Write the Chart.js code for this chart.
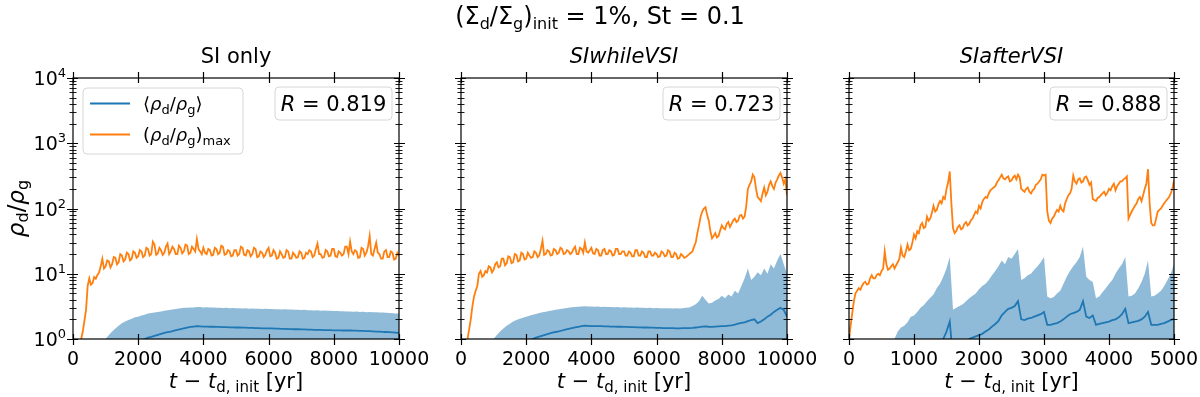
<!DOCTYPE html>
<html>
<head>
<meta charset="utf-8">
<script src="https://cdn.jsdelivr.net/npm/chart.js@4"></script>
<style>
  body { margin: 0; background: #fff; }
  #wrap { position: relative; width: 1200px; height: 397px; }
  #wrap canvas { position: absolute; left: 0; top: 0; }
</style>
</head>
<body>
<div id="wrap">
  <canvas id="siOnly" width="1200" height="397"></canvas>
  <canvas id="siWhile" width="1200" height="397"></canvas>
  <canvas id="siAfter" width="1200" height="397"></canvas>
</div>
<script>
// sample times (yr): max curves are sampled twice as often as the mean and its band
const tLong = Array.from({ length: 101 }, (_, i) => i * 100);
const tLongFine = Array.from({ length: 201 }, (_, i) => i * 50);
const tShort = Array.from({ length: 101 }, (_, i) => i * 50);
const tShortFine = Array.from({ length: 201 }, (_, i) => i * 25);

// SI only
const siOnlyMax = [
  0.5, 0.55, 0.6, 0.7, 0.8, 1.0, 1.3, 1.9, 2.8, 6.5, 8.5, 6.8, 7.2, 8.9, 8.4, 9.6, 10.5, 13, 17, 12,
  13, 16, 15.5, 12.5, 14, 18, 17.5, 14, 15, 20, 19, 15.5, 16.5, 21, 20, 16, 17, 22, 21, 17.5,
  18.5, 23, 22, 18, 19, 25, 24, 19, 20, 31, 28, 19.5, 20.5, 25, 23, 19.5, 21, 26, 29, 20,
  22, 26, 24, 20, 20, 27, 25, 20.5, 22, 28, 27, 20, 21, 26, 24, 22, 34, 24, 22, 20,
  25, 21, 20, 24, 23, 19, 19.5, 25, 24, 20, 21, 27, 26, 19.5, 20, 23, 22, 18.5, 19, 23,
  23, 19, 20, 26, 25, 19.5, 19, 23, 22, 18.5, 20, 25, 24, 18, 18.5, 22, 21, 18, 19.5, 23,
  25, 18.5, 19, 23, 21, 17, 17.5, 22, 20, 17.5, 18, 23, 22, 17, 17, 21, 19.5, 17.5, 18, 22,
  21, 17, 17.5, 21, 20, 23, 22, 18, 19, 24, 29, 20, 20, 17.5, 18, 23, 22, 18.5, 19, 24,
  24, 18.5, 18, 22, 21, 19, 20, 26, 26, 20, 31, 22, 20, 23, 22, 17.5, 18, 25, 24, 19,
  21, 26, 38, 20, 19, 24, 30, 21, 20, 17, 17, 22, 23, 18, 18, 22, 21, 16.5, 17, 21,
  19
];
const siOnlyUpper = [
  null, null, null, null, null, null, null, null, null, 0.9,
  1.0, 1.15, 1.3, 1.45, 1.6, 1.75, 1.85, 1.95, 2.05, 2.15,
  2.2, 2.3, 2.35, 2.45, 2.5, 2.55, 2.6, 2.65, 2.7, 2.75,
  2.8, 2.85, 2.9, 2.95, 3.0, 3.0, 3.05, 3.05, 3.1, 3.08,
  3.05, 3.06, 3.03, 3.04, 3.0, 3.02, 2.98, 3.0, 2.97, 2.98,
  2.95, 2.97, 2.94, 2.95, 2.92, 2.93, 2.9, 2.92, 2.88, 2.9,
  2.87, 2.88, 2.85, 2.86, 2.83, 2.85, 2.82, 2.83, 2.8, 2.81,
  2.78, 2.8, 2.76, 2.77, 2.74, 2.75, 2.72, 2.73, 2.7, 2.71,
  2.68, 2.69, 2.66, 2.67, 2.64, 2.65, 2.62, 2.63, 2.6, 2.61,
  2.58, 2.6, 2.56, 2.57, 2.54, 2.55, 2.52, 2.5, 2.48, 2.47,
  2.45
];
const siOnlyMean = [
  null, null, null, null, null, null, null, null, null, null,
  null, null, null, null, null, null, null, null, null, null,
  0.85, 0.95, 1.0, 1.05, 1.08, 1.12, 1.16, 1.2, 1.24, 1.27,
  1.3, 1.34, 1.38, 1.42, 1.46, 1.5, 1.53, 1.55, 1.57, 1.56,
  1.55, 1.55, 1.54, 1.54, 1.53, 1.53, 1.52, 1.52, 1.51, 1.51,
  1.5, 1.5, 1.49, 1.49, 1.48, 1.48, 1.47, 1.47, 1.46, 1.46,
  1.45, 1.45, 1.44, 1.44, 1.43, 1.43, 1.42, 1.42, 1.41, 1.41,
  1.4, 1.4, 1.39, 1.39, 1.38, 1.38, 1.38, 1.37, 1.37, 1.37,
  1.36, 1.36, 1.36, 1.35, 1.35, 1.35, 1.34, 1.34, 1.33, 1.33,
  1.32, 1.32, 1.31, 1.3, 1.3, 1.29, 1.28, 1.27, 1.26, 1.25,
  1.24
];

// SIwhileVSI
const whileMax = [
  0.5, 0.6, 0.7, 0.85, 1.0, 1.4, 2.0, 3.2, 4.5, 5.5, 6.5, 10, 11, 9, 9.5, 11, 10.5, 13, 12.5, 10.5,
  11.5, 14, 15, 12.5, 13, 17, 17, 13.5, 14.5, 18.5, 18, 14.5, 15, 20, 19.5, 15.5, 16, 21, 20, 16.5,
  17, 21, 19, 17.5, 18, 22, 21, 18, 19, 24, 32, 19.5, 20, 23, 22, 19, 19.5, 24, 23, 20,
  21, 25, 24, 20, 20.5, 23, 22, 20, 21, 24, 26, 20, 20, 25, 24, 21, 30, 22, 21, 23,
  25, 20.5, 20, 24, 23, 19, 19, 23, 24, 20, 20, 23, 22, 19, 19.5, 24, 24, 20, 20, 22,
  22, 19, 19, 22, 21, 18.5, 18.5, 23, 23, 19, 19, 22, 21, 18, 18, 22, 22, 19, 19, 21,
  20, 18, 18.5, 22, 21, 18.5, 19, 23, 22, 18, 18, 21, 20, 17, 17.5, 20, 19, 17.5, 18, 19,
  20, 21, 22, 26, 30, 42, 55, 75, 90, 100, 105, 80, 65, 45, 35, 38, 42, 36, 38, 46,
  55, 50, 48, 58, 62, 52, 58, 66, 70, 62, 65, 78, 80, 70, 75, 110, 200, 230, 260, 330,
  300, 200, 150, 140, 130, 170, 210, 160, 180, 230, 260, 220, 200, 250, 280, 320, 350, 300, 240, 280,
  160
];
const whileUpper = [
  null, null, null, null, null, null, null, null, null, 0.9,
  1.0, 1.15, 1.3, 1.45, 1.6, 1.72, 1.85, 1.95, 2.05, 2.12,
  2.2, 2.28, 2.35, 2.42, 2.5, 2.56, 2.62, 2.68, 2.74, 2.8,
  2.86, 2.92, 2.97, 3.02, 3.07, 3.1, 3.13, 3.15, 3.18, 3.16,
  3.15, 3.12, 3.14, 3.1, 3.11, 3.08, 3.1, 3.06, 3.08, 3.05,
  3.06, 3.03, 3.05, 3.02, 3.03, 3.0, 3.02, 2.98, 3.0, 2.97,
  2.98, 2.96, 2.97, 2.95, 2.96, 2.94, 2.95, 2.93, 2.96, 3.0,
  3.05, 3.2, 3.4, 3.8, 4.6, 4.0, 3.5, 3.6, 3.9, 4.1,
  4.6, 4.2, 4.8, 4.5, 5.5, 5.0, 6.5, 8.5, 12, 8,
  9, 10.5, 9.5, 12, 10, 14, 12, 16, 20, 14,
  10
];
const whileMean = [
  null, null, null, null, null, null, null, null, null, null,
  null, null, null, null, null, null, null, null, null, null,
  0.85, 0.95, 1.0, 1.05, 1.09, 1.13, 1.17, 1.21, 1.25, 1.28,
  1.31, 1.35, 1.39, 1.43, 1.47, 1.51, 1.54, 1.57, 1.6, 1.59,
  1.58, 1.58, 1.57, 1.57, 1.56, 1.56, 1.55, 1.55, 1.54, 1.54,
  1.53, 1.53, 1.52, 1.52, 1.51, 1.51, 1.5, 1.5, 1.49, 1.49,
  1.48, 1.48, 1.47, 1.47, 1.47, 1.47, 1.46, 1.46, 1.47, 1.47,
  1.47, 1.48, 1.5, 1.52, 1.55, 1.56, 1.54, 1.53, 1.55, 1.56,
  1.57, 1.58, 1.6, 1.62, 1.66, 1.72, 1.76, 1.8, 1.88, 1.95,
  2.0, 1.75, 1.85, 2.0, 2.2, 2.35, 2.6, 2.8, 3.0, 2.8,
  2.2
];

// SIafterVSI
const afterMax = [
  1.0, 1.6, 2.5, 3.8, 5, 5.5, 6, 5.7, 6.5, 7.2, 7.5, 6.8, 7, 8.5, 9.5, 8.5, 8.5, 9.5, 10, 9.5,
  11, 12, 22, 14, 11.5, 12, 13, 14, 12, 13.5, 15, 17, 25, 19, 18, 22, 28, 23, 24, 30,
  40, 35, 45, 42, 55, 60, 50, 52, 75, 65, 70, 85, 110, 90, 95, 115, 130, 120, 150, 140,
  200, 250, 370, 120, 50, 42, 45, 52, 55, 48, 50, 58, 62, 55, 58, 66, 70, 80, 90, 85,
  110, 100, 125, 140, 150, 145, 170, 190, 200, 210, 220, 250, 270, 300, 330, 290, 280, 300, 310, 260,
  270, 300, 320, 280, 330, 300, 200, 190, 180, 200, 210, 180, 170, 190, 200, 230, 240, 260, 280, 330,
  320, 330, 90, 65, 60, 70, 75, 85, 95, 90, 110, 95, 90, 120, 140, 160, 170, 200, 320, 260,
  240, 280, 290, 250, 260, 300, 310, 270, 230, 250, 140, 135, 130, 145, 150, 160, 170, 180, 160, 175,
  200, 190, 220, 240, 190, 220, 240, 260, 260, 280, 290, 310, 70, 80, 90, 100, 110, 120, 140, 150,
  130, 160, 200, 240, 400, 120, 60, 55, 55, 70, 90, 95, 100, 110, 120, 130, 140, 150, 170, 200,
  270
];
const afterUpper = [
  null, null, null, null, null, null, null, null, null, null,
  null, null, null, 0.8, 1.0, 1.3, 1.5, 1.6, 1.8, 2.2,
  2.3, 2.6, 3.0, 3.3, 3.8, 4.3, 4.8, 6, 7, 9,
  12, 18, 2.8, 3.0, 3.2, 3.4, 3.8, 4.2, 4.6, 5,
  5.8, 6.5, 7, 8, 9.5, 11, 13, 16, 14, 18,
  17, 20, 24, 8, 8.5, 9.5, 10, 11.5, 13, 15,
  18, 4.5, 4.2, 4.4, 5, 5.5, 7, 9, 11, 13,
  15, 18, 26, 9, 8, 7.5, 4.2, 4.5, 5.2, 6,
  7, 8, 10, 12, 14, 18, 4.5, 4.6, 5, 6,
  7.5, 10, 16, 4.5, 4.6, 5, 5.5, 6.5, 8, 10,
  14
];
const afterMean = [
  null, null, null, null, null, null, null, null, null, null,
  null, null, null, null, null, null, null, null, null, null,
  null, null, null, null, null, null, null, null, 0.8, 1.0,
  1.3, 1.85, 0.5, null, null, null, 0.8, 1.0, 1.05, 1.1,
  1.15, 1.2, 1.3, 1.4, 1.55, 1.7, 1.9, 2.3, 2.6, 2.9,
  3.0, 3.2, 3.8, 2.0, 1.95, 2.05, 2.1, 2.2, 2.3, 2.4,
  2.6, 1.65, 1.65, 1.7, 1.75, 1.85, 2.0, 2.2, 2.4, 2.5,
  2.6, 2.8, 3.8, 2.2, 2.1, 2.3, 1.65, 1.7, 1.75, 1.8,
  1.85, 1.95, 2.0, 2.15, 2.4, 2.9, 1.75, 1.8, 1.85, 1.9,
  2.0, 2.2, 2.6, 1.65, 1.65, 1.65, 1.7, 1.75, 1.85, 1.95,
  2.05
];

const longTicks = [0, 2000, 4000, 6000, 8000, 10000];
const shortTicks = [0, 1000, 2000, 3000, 4000, 5000];

const BLUE = '#1f77b4';
const ORANGE = '#ff7f0e';
const BAND = 'rgba(31, 119, 180, 0.5)';
const FONT = '"DejaVu Sans", sans-serif';

// draws a run of text pieces: [text, size, italic, dy]
function rich(ctx, parts, x, y, align) {
  let w = 0;
  parts.forEach(p => {
    ctx.font = (p[2] ? 'italic ' : '') + p[1] + 'px ' + FONT;
    w += ctx.measureText(p[0]).width;
  });
  let cx = align === 'center' ? x - w / 2 : align === 'right' ? x - w : x;
  ctx.textAlign = 'left';
  ctx.textBaseline = 'alphabetic';
  parts.forEach(p => {
    ctx.font = (p[2] ? 'italic ' : '') + p[1] + 'px ' + FONT;
    ctx.fillText(p[0], cx, y + (p[3] || 0));
    cx += ctx.measureText(p[0]).width;
  });
}

function roundBox(ctx, x, y, w, h) {
  ctx.beginPath();
  ctx.roundRect(x, y, w, h, 4);
  ctx.fillStyle = 'rgba(255,255,255,0.8)';
  ctx.fill();
  ctx.strokeStyle = '#d6d6d6';
  ctx.lineWidth = 1;
  ctx.stroke();
}

function pts(t, v) {
  return t.map((x, i) => ({ x: x, y: v[i] }));
}

function decor(p) {
  return {
    id: 'decor',
    afterDraw: function(chart) {
      const ctx = chart.ctx;
      const a = chart.chartArea;
      const xs = chart.scales.x;
      const ys = chart.scales.y;
      const mid = (a.left + a.right) / 2;

      ctx.save();
      ctx.strokeStyle = '#000';
      ctx.fillStyle = '#000';
      ctx.lineWidth = 1.2;
      ctx.strokeRect(a.left, a.top, a.right - a.left, a.bottom - a.top);

      ctx.beginPath();
      p.ticks.forEach(v => {
        let px = Math.round(xs.getPixelForValue(v)) + 0.5;
        ctx.moveTo(px, a.bottom - 5); ctx.lineTo(px, a.bottom + 6);
        ctx.moveTo(px, a.top - 6); ctx.lineTo(px, a.top + 5);
      });
      for (let e = 0; e <= 4; e++) {
        let py = Math.round(ys.getPixelForValue(Math.pow(10, e))) + 0.5;
        ctx.moveTo(a.left - 6, py); ctx.lineTo(a.left + 5, py);
        ctx.moveTo(a.right - 5, py); ctx.lineTo(a.right + 6, py);
      }
      ctx.stroke();
      ctx.lineWidth = 0.9;
      ctx.beginPath();
      for (let e = 0; e < 4; e++) {
        for (let m = 2; m <= 9; m++) {
          let py = Math.round(ys.getPixelForValue(m * Math.pow(10, e))) + 0.5;
          ctx.moveTo(a.left - 3.5, py); ctx.lineTo(a.left + 3.5, py);
          ctx.moveTo(a.right - 3.5, py); ctx.lineTo(a.right + 3.5, py);
        }
      }
      ctx.stroke();

      // tick labels
      p.ticks.forEach(v => {
        rich(ctx, [[String(v), 19]], xs.getPixelForValue(v), a.bottom + 26, 'center');
      });
      if (p.yLabels) {
        for (let e = 0; e <= 4; e++) {
          let py = ys.getPixelForValue(Math.pow(10, e));
          rich(ctx, [['10', 19], [String(e), 13, false, -8]], a.left - 7, py + 7, 'right');
        }
        ctx.save();
        ctx.translate(17, (a.top + a.bottom) / 2);
        ctx.rotate(-Math.PI / 2);
        rich(ctx, [['ρ', 23, true], ['d', 16, false, 4], ['/', 23], ['ρ', 23, true], ['g', 16, false, 4]], 0, 7, 'center');
        ctx.restore();
      }

      // panel title and x label
      rich(ctx, [[p.title, 21, p.italic]], mid, a.top - 15, 'center');
      rich(ctx, [['t', 21, true], [' − ', 21], ['t', 21, true], ['d, init', 15, false, 4], [' [yr]', 21]], mid, a.bottom + 49, 'center');

      // R box
      roundBox(ctx, a.right - 124, a.top + 9, 117, 33);
      ctx.fillStyle = '#000';
      rich(ctx, [['R', 21, true], [' = ' + p.r, 21]], a.right - 65.5, a.top + 33, 'center');

      if (p.legend) {
        roundBox(ctx, a.left + 10, a.top + 10, 160, 66);
        ctx.lineWidth = 2;
        ctx.strokeStyle = BLUE;
        ctx.beginPath(); ctx.moveTo(a.left + 17, a.top + 25.5); ctx.lineTo(a.left + 57, a.top + 25.5); ctx.stroke();
        ctx.strokeStyle = ORANGE;
        ctx.beginPath(); ctx.moveTo(a.left + 17, a.top + 56.5); ctx.lineTo(a.left + 57, a.top + 56.5); ctx.stroke();
        ctx.fillStyle = '#000';
        rich(ctx, [['⟨', 18], ['ρ', 18, true], ['d', 13, false, 4], ['/', 18], ['ρ', 18, true], ['g', 13, false, 4], ['⟩', 18]], a.left + 70, a.top + 32, 'left');
        rich(ctx, [['(', 18], ['ρ', 18, true], ['d', 13, false, 4], ['/', 18], ['ρ', 18, true], ['g', 13, false, 4], [')', 18], ['max', 13, false, 4]], a.left + 70, a.top + 63, 'left');
      }

      if (p.suptitle) {
        rich(ctx, [['(Σ', 24], ['d', 16, false, 5], ['/Σ', 24], ['g', 16, false, 5], [')', 24], ['init', 16, false, 5], [' = 1%, St = 0.1', 24]], 600, 24, 'center');
      }
      ctx.restore();
    }
  };
}

function makePanel(id, p) {
  return new Chart(document.getElementById(id), {
    type: 'line',
    data: {
      datasets: [
        { data: pts(p.tFine, p.max), borderColor: ORANGE, borderWidth: 1.8, pointRadius: 0, fill: false },
        { data: pts(p.t, p.mean), borderColor: BLUE, borderWidth: 1.8, pointRadius: 0, fill: false },
        { data: pts(p.t, p.upper), borderWidth: 0, borderColor: 'rgba(0,0,0,0)', backgroundColor: BAND, pointRadius: 0, fill: 'start' }
      ]
    },
    options: {
      responsive: false,
      animation: false,
      devicePixelRatio: 1,
      layout: { padding: p.pad },
      scales: {
        x: { type: 'linear', min: 0, max: p.xMax, display: false },
        y: { type: 'logarithmic', min: 1, max: 10000, display: false }
      },
      plugins: { legend: { display: false }, tooltip: { enabled: false } }
    },
    plugins: [decor(p)]
  });
}

makePanel('siOnly', {
  t: tLong, tFine: tLongFine, max: siOnlyMax, mean: siOnlyMean, upper: siOnlyUpper, xMax: 10000, ticks: longTicks,
  pad: { left: 73, right: 801, top: 78, bottom: 58 },
  title: 'SI only', italic: false, r: '0.819', yLabels: true, legend: true
});
makePanel('siWhile', {
  t: tLong, tFine: tLongFine, max: whileMax, mean: whileMean, upper: whileUpper, xMax: 10000, ticks: longTicks,
  pad: { left: 461, right: 413, top: 78, bottom: 58 },
  title: 'SIwhileVSI', italic: true, r: '0.723', suptitle: true
});
makePanel('siAfter', {
  t: tShort, tFine: tShortFine, max: afterMax, mean: afterMean, upper: afterUpper, xMax: 5000, ticks: shortTicks,
  pad: { left: 849, right: 26, top: 78, bottom: 58 },
  title: 'SIafterVSI', italic: true, r: '0.888'
});
</script>
</body>
</html>
